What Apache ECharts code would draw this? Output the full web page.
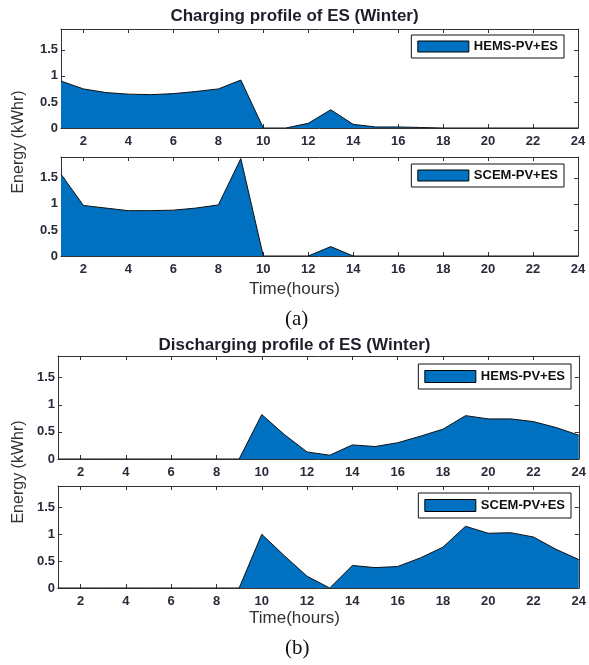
<!DOCTYPE html>
<html>
<head>
<meta charset="utf-8">
<script src="https://cdn.jsdelivr.net/npm/echarts@6/dist/echarts.min.js"></script>
<style>html,body{margin:0;padding:0;background:#fff}#c{width:589px;height:665px}</style>
</head>
<body>
<div id="c"></div>
<script>
const hours = [1,2,3,4,5,6,7,8,9,10,11,12,13,14,15,16,17,18,19,20,21,22,23,24];
const hemsCharge = [0.90,0.75,0.68,0.65,0.64,0.66,0.70,0.75,0.92,0,0,0.09,0.35,0.07,0.02,0.02,0.01,0,0,0,0,0,0,0];
const scemCharge = [1.57,0.97,0.92,0.87,0.87,0.88,0.92,0.98,1.87,0,0,0,0.18,0,0,0,0,0,0,0,0,0,0,0];
const hemsDischarge = [0,0,0,0,0,0,0,0,0,0.82,0.45,0.13,0.07,0.26,0.23,0.30,0.42,0.55,0.80,0.74,0.74,0.69,0.58,0.44];
const scemDischarge = [0,0,0,0,0,0,0,0,0,1.00,0.60,0.22,0,0.42,0.38,0.40,0.56,0.76,1.15,1.02,1.03,0.95,0.72,0.53];
const xTicks = [2,4,6,8,10,12,14,16,18,20,22,24];
const yTicks = [0,0.5,1,1.5];
const panelNames = ['HEMS-PV+ES','SCEM-PV+ES','HEMS-PV+ES','SCEM-PV+ES'];
const panelData = [hemsCharge, scemCharge, hemsDischarge, scemDischarge];
const titles = ['Charging profile of ES (Winter)', 'Discharging profile of ES (Winter)'];
const xName = 'Time(hours)';
const yName = 'Energy (kWhr)';

const grids = [
  {left:61, right:11, top:29, height:99},
  {left:61, right:11, top:157, height:99},
  {left:58, right:7, top:356, height:103},
  {left:58, right:7, top:486, height:102}
];
const legendPos = [
  {right:25, top:35},
  {right:25, top:164},
  {right:18, top:364},
  {right:18, top:493}
];
const axisColor = '#333';
const labelFont = {fontFamily:'Liberation Sans, Arial', fontWeight:'bold', fontSize:13, color:'#2a2a3a'};

const xAxes = [], yAxes = [], series = [], legends = [];
grids.forEach((g,i)=>{
  ['bottom','top'].forEach((pos,k)=>{
    xAxes.push({
      type:'value', gridIndex:i, position:pos, min:1, max:24,
      axisLine:{show:true, onZero:false, lineStyle:{color:axisColor, width:1}},
      axisTick:{show:true, inside:true, length:4, customValues:xTicks, lineStyle:{color:axisColor}},
      axisLabel:Object.assign({show:k===0, customValues:xTicks, margin:7}, labelFont),
      splitLine:{show:false}
    });
  });
  ['left','right'].forEach((pos,k)=>{
    yAxes.push({
      type:'value', gridIndex:i, position:pos, min:0, max:1.9,
      axisLine:{show:true, lineStyle:{color:axisColor, width:1}},
      axisTick:{show:true, inside:true, length:4, customValues:yTicks, lineStyle:{color:axisColor}},
      axisLabel:Object.assign({show:k===0, customValues:yTicks, margin:3}, labelFont),
      splitLine:{show:false}
    });
  });
  series.push({
    name:panelNames[i], type:'line', xAxisIndex:2*i, yAxisIndex:2*i,
    data:hours.map((h,j)=>[h, panelData[i][j]]),
    showSymbol:false, symbol:'none', silent:true,
    lineStyle:{color:'#111', width:1},
    itemStyle:{color:'#0070C0'},
    areaStyle:{color:'#0070C0', opacity:1}
  });
  const big = i >= 2;
  legends.push(Object.assign({
    data:[{name:panelNames[i], icon:'rect'}],
    orient:'vertical',
    itemWidth:51, itemHeight:big ? 12 : 11,
    padding:big ? [6,6,6,6] : [5,6,5,6],
    backgroundColor:'#fff', borderColor:'#111', borderWidth:1,
    itemStyle:{color:'#0070C0', borderColor:'#000', borderWidth:1},
    textStyle:{fontFamily:'Liberation Sans, Arial', fontWeight:'bold', fontSize:13, color:'#111'},
    selectedMode:false
  }, legendPos[i]));
});

const graphic = [
  {type:'text', left:'center', top:8, style:{text:titles[0], font:'bold 17px Liberation Sans, Arial', fill:'#1e1e2a'}},
  {type:'text', left:'center', top:337, style:{text:titles[1], font:'bold 17px Liberation Sans, Arial', fill:'#1e1e2a'}},
  {type:'text', left:'center', top:281, style:{text:xName, font:'17px Liberation Sans, Arial', fill:'#333'}},
  {type:'text', left:'center', top:610, style:{text:xName, font:'17px Liberation Sans, Arial', fill:'#333'}},
  {type:'text', left:285, top:309, style:{text:'(a)', font:'21px Liberation Serif, Times New Roman', fill:'#111'}},
  {type:'text', left:285, top:638, style:{text:'(b)', font:'21px Liberation Serif, Times New Roman', fill:'#111'}},
  {type:'text', x:19, y:142, rotation:Math.PI/2, style:{text:yName, font:'16px Liberation Sans, Arial', fill:'#333', align:'center', verticalAlign:'middle'}},
  {type:'text', x:19, y:472, rotation:Math.PI/2, style:{text:yName, font:'16px Liberation Sans, Arial', fill:'#333', align:'center', verticalAlign:'middle'}}
];

const chart = echarts.init(document.getElementById('c'), null, {renderer:'canvas'});
chart.setOption({
  animation:false,
  backgroundColor:'#fff',
  grid:grids,
  xAxis:xAxes,
  yAxis:yAxes,
  series:series,
  legend:legends,
  graphic:graphic
});
</script>
</body>
</html>
